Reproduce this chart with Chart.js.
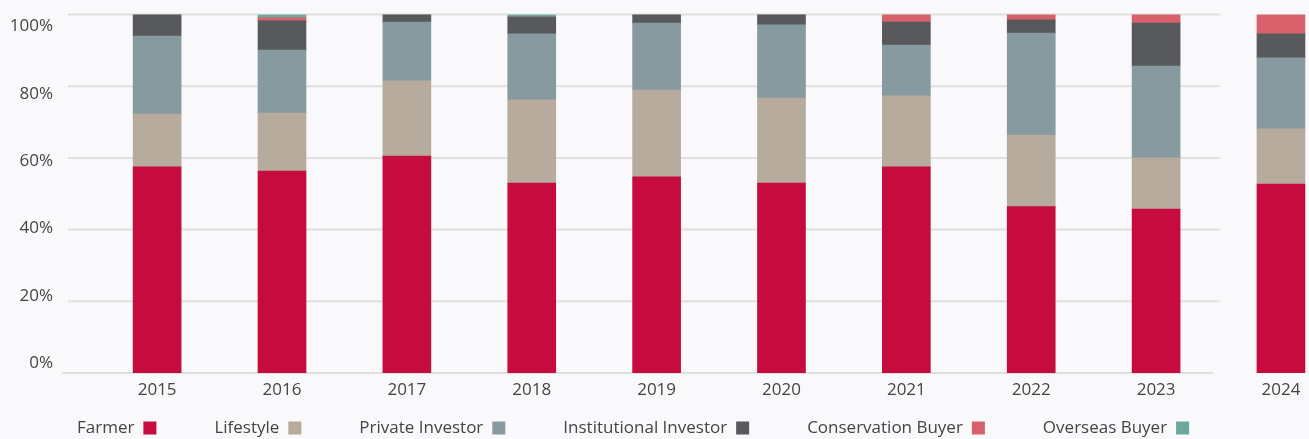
<!DOCTYPE html>
<html>
<head>
<meta charset="utf-8">
<script src="https://cdn.jsdelivr.net/npm/chart.js@4"></script>
<style>
  html, body { margin: 0; padding: 0; background: #f9f9fb; }
  canvas { display: block; }
</style>
</head>
<body>
<canvas id="chart" width="1309" height="439"></canvas>
<script>
// Share of buyers by type, per year (%)
const years = ['2015', '2016', '2017', '2018', '2019', '2020', '2021', '2022', '2023', '2024'];
const farmer        = [57.5, 56.3, 60.5, 53.0, 54.7, 53.0, 57.5, 46.4, 45.7, 52.7];
const lifestyle     = [14.7, 16.2, 21.0, 23.2, 24.2, 23.7, 19.8, 20.0, 14.3, 15.4];
const privateInv    = [21.8, 17.6, 16.4, 18.4, 18.7, 20.4, 14.2, 28.4, 25.6, 19.8];
const institutional = [6.0, 8.1, 2.1, 4.7, 2.4, 2.9, 6.4, 3.7, 12.0, 6.7];
const conservation  = [0, 0.9, 0, 0, 0, 0, 2.1, 1.5, 2.4, 5.4];
const overseas      = [0, 0.9, 0, 0.7, 0, 0, 0, 0, 0, 0];
const yTicks = [0, 20, 40, 60, 80, 100];

const series = [
    { label: 'Farmer', data: farmer, color: '#c60c3e' },
    { label: 'Lifestyle', data: lifestyle, color: '#b7ab9d' },
    { label: 'Private Investor', data: privateInv, color: '#869a9f' },
    { label: 'Institutional Investor', data: institutional, color: '#58595b' },
    { label: 'Conservation Buyer', data: conservation, color: '#d8606a' },
    { label: 'Overseas Buyer', data: overseas, color: '#6ba99e' }
];

const FONT = "'Open Sans', sans-serif";
const TEXT = '#444446';

// page background
const background = {
    id: 'background',
    beforeDraw(chart) {
        const ctx = chart.ctx;
        ctx.save();
        ctx.fillStyle = '#f9f9fb';
        ctx.fillRect(0, 0, chart.width, chart.height);
        ctx.restore();
    }
};

// horizontal gridlines that stop short of the 2024 column
const gridLines = {
    id: 'gridLines',
    beforeDatasetsDraw(chart) {
        const ctx = chart.ctx;
        const x = chart.scales.x, y = chart.scales.y;
        ctx.save();
        ctx.strokeStyle = '#dfdfde';
        ctx.lineWidth = 2;
        yTicks.forEach(v => {
            const py = y.getPixelForValue(v);
            const x0 = v === 0 ? chart.chartArea.left : x.getPixelForValue(-0.714);
            const x1 = v === 0 ? x.getPixelForValue(8.457) : x.getPixelForValue(8.51);
            ctx.beginPath();
            ctx.moveTo(x0, py);
            ctx.lineTo(x1, py);
            ctx.stroke();
        });
        ctx.restore();
    }
};

// legend: label first, colour square after it
const bottomLegend = {
    id: 'bottomLegend',
    afterDraw(chart) {
        const ctx = chart.ctx;
        ctx.save();
        ctx.font = '17px ' + FONT;
        ctx.textBaseline = 'middle';
        let px = 77;
        const cy = 428;
        chart.data.datasets.forEach(ds => {
            ctx.fillStyle = TEXT;
            ctx.fillText(ds.label, px, cy);
            px += ctx.measureText(ds.label).width + 9;
            ctx.fillStyle = ds.backgroundColor;
            ctx.fillRect(px, cy - 6.5, 13, 13);
            px += 13 + 58;
        });
        ctx.restore();
    }
};

new Chart(document.getElementById('chart'), {
    type: 'bar',
    data: {
        datasets: series.map(s => ({
            label: s.label,
            data: s.data.map((v, i) => ({ x: i, y: v })),
            backgroundColor: s.color,
            borderWidth: 0,
            barThickness: 48,
            stack: 'share'
        }))
    },
    options: {
        responsive: false,
        animation: false,
        devicePixelRatio: 1,
        layout: { padding: { top: 14.5, right: 0, bottom: 0, left: 0 } },
        plugins: {
            legend: { display: false },
            tooltip: { enabled: false }
        },
        scales: {
            x: {
                type: 'linear',
                offset: false,
                min: -0.7618,
                max: 9.2245,
                grid: { display: false, drawTicks: false, offset: false },
                border: { display: false },
                afterBuildTicks: scale => {
                    scale.ticks = years.map((_, i) => ({ value: i }));
                },
                afterFit: scale => { scale.height = 66; },
                ticks: {
                    autoSkip: false,
                    maxRotation: 0,
                    padding: 7,
                    color: TEXT,
                    font: { family: FONT, size: 17 },
                    callback: v => years[v]
                }
            },
            y: {
                display: false,
                stacked: true,
                min: 0,
                max: 100
            },
            yLabels: {
                position: 'left',
                min: -2.967,
                max: 103.56,
                grid: { display: false, drawTicks: false },
                border: { display: false },
                afterBuildTicks: scale => {
                    scale.ticks = yTicks.map(v => ({ value: v }));
                },
                afterFit: scale => { scale.width = 62; },
                ticks: {
                    padding: 9,
                    color: TEXT,
                    font: { family: FONT, size: 17, lineHeight: 0.5 },
                    callback: v => v + '%'
                }
            }
        }
    },
    plugins: [background, gridLines, bottomLegend]
});
</script>
</body>
</html>
